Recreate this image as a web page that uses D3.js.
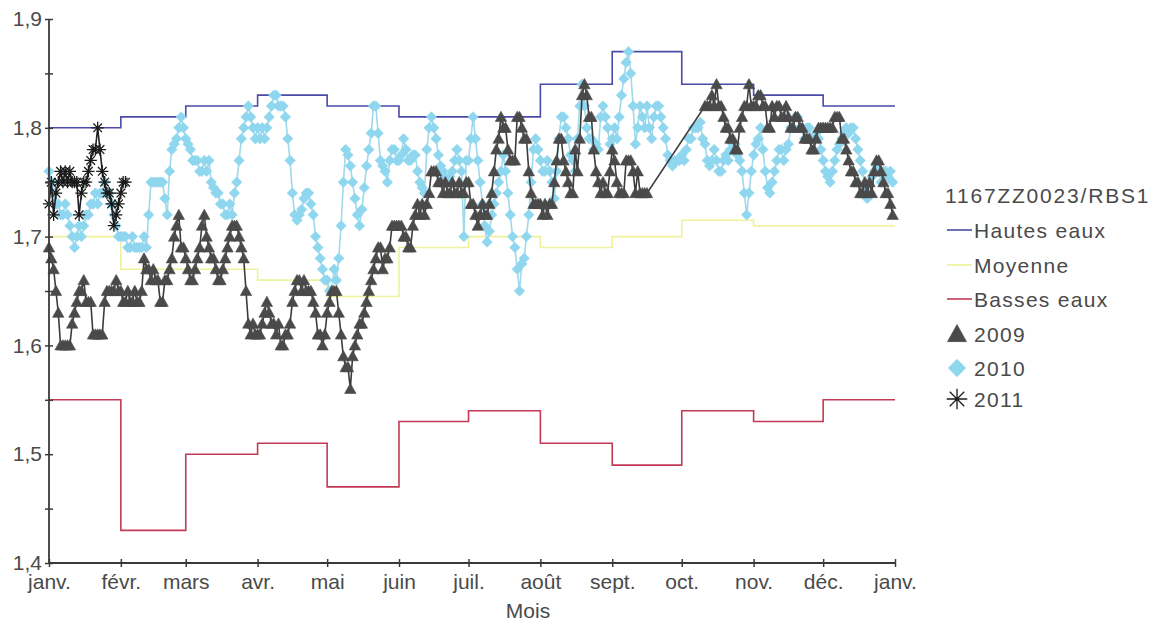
<!DOCTYPE html>
<html>
<head>
<meta charset="utf-8">
<script src="https://cdn.jsdelivr.net/npm/d3@7"></script>
<style>
  body { margin: 0; background: #fff; }
  svg text { font-family: "Liberation Sans", Arial, sans-serif; fill: #4a4a4a; }
</style>
</head>
<body>
<svg id="chart" width="1155" height="628"></svg>
<script>
// ---- data ----
const monthLabels = ["janv.", "févr.", "mars", "avr.", "mai", "juin", "juil.", "août", "sept.", "oct.", "nov.", "déc.", "janv."];
const yTickValues = [1.4, 1.45, 1.5, 1.55, 1.6, 1.65, 1.7, 1.75, 1.8, 1.85, 1.9];
const stationName = "1167ZZ0023/RBS1";

// monthly reference levels (janv. .. déc.)
const hautesEaux = [1.80, 1.81, 1.82, 1.83, 1.82, 1.81, 1.81, 1.84, 1.87, 1.84, 1.83, 1.82];
const moyenne    = [1.70, 1.67, 1.67, 1.66, 1.645, 1.69, 1.70, 1.69, 1.70, 1.715, 1.71, 1.71];
const bassesEaux = [1.55, 1.43, 1.50, 1.51, 1.47, 1.53, 1.54, 1.51, 1.49, 1.54, 1.53, 1.55];

// daily levels from 1 January (null = no measurement)
const niveaux2009 = [
  1.69,1.68,1.67,1.65,1.63,1.60,1.60,1.60,1.60,1.60,
  1.62,1.63,1.64,1.65,1.65,1.66,1.64,1.64,1.64,1.61,
  1.61,1.61,1.61,1.61,1.64,1.65,1.65,1.65,1.65,1.66,
  1.65,1.65,1.64,1.64,1.65,1.64,1.64,1.65,1.64,1.64,
  1.65,1.68,1.67,1.67,1.66,1.67,1.66,1.66,1.64,1.64,
  1.66,1.66,1.67,1.68,1.70,1.71,1.72,1.69,1.69,1.68,
  1.67,1.66,1.66,1.67,1.68,1.69,1.71,1.72,1.70,1.69,
  1.68,1.68,1.67,1.66,1.66,1.67,1.68,1.69,1.70,1.71,
  1.71,1.71,1.70,1.69,1.68,1.65,1.62,1.61,1.62,1.61,
  1.61,1.61,1.62,1.63,1.64,1.63,1.62,1.62,1.61,1.62,
  1.60,1.60,1.61,1.61,1.62,1.64,1.65,1.66,1.66,1.65,
  1.66,1.65,1.65,1.65,1.64,1.63,1.61,1.61,1.60,1.61,
  1.63,1.64,1.65,1.65,1.65,1.63,1.61,1.59,1.58,1.58,
  1.56,1.59,1.60,1.61,1.62,1.62,1.63,1.64,1.65,1.66,
  1.67,1.68,1.69,1.69,1.67,1.68,1.68,1.69,1.71,1.71,
  1.71,1.71,1.71,1.70,1.70,1.69,1.69,1.71,1.72,1.73,
  1.72,1.73,1.72,1.73,1.74,1.76,1.76,1.76,1.75,1.75,
  1.74,1.75,1.74,1.74,1.75,1.74,1.74,1.75,1.74,1.74,
  1.75,1.75,1.73,1.73,1.72,1.71,1.72,1.73,1.72,1.72,
  1.73,1.74,1.76,1.78,1.79,1.81,1.80,1.80,1.78,1.77,
  1.77,1.77,1.81,1.81,1.80,1.79,1.79,1.76,1.74,1.73,
  1.73,1.73,1.73,1.72,1.73,1.72,1.73,1.73,1.75,1.77,
  1.79,1.79,1.77,1.76,1.75,1.74,1.74,1.78,1.76,1.79,
  1.83,1.84,1.83,1.81,1.81,1.78,1.76,1.75,1.74,1.75,
  1.74,1.74,1.76,1.78,1.77,1.75,1.74,1.74,1.74,1.77,
  1.77,1.77,1.76,1.74,1.76,1.74,1.74,1.74,1.74,null,
  null,null,null,null,null,null,null,null,null,null,
  null,null,null,null,null,null,null,null,null,null,
  null,null,null,1.82,1.82,1.82,1.83,1.82,1.84,1.82,
  1.82,1.81,1.80,1.80,1.79,1.79,1.78,1.78,1.80,1.81,
  1.82,1.82,1.84,1.82,1.82,1.82,1.83,1.83,1.82,1.82,
  1.80,1.80,1.82,1.81,1.82,1.82,1.81,1.81,1.82,1.81,
  1.80,1.80,1.81,1.81,1.80,1.80,1.79,1.79,1.79,1.78,
  1.78,1.79,1.80,1.80,1.80,1.80,1.80,1.80,1.80,1.81,
  1.81,1.81,1.79,1.79,1.78,1.77,1.76,1.76,1.75,1.75,
  1.74,1.74,1.75,1.74,1.75,1.74,1.76,1.77,1.77,1.76,
  1.75,1.74,1.74,1.73,1.72
];

const niveaux2010 = [
  1.76,1.75,1.74,1.73,1.73,1.72,1.72,1.73,1.72,1.71,
  1.70,1.69,1.70,1.71,1.70,1.71,1.72,1.72,1.73,1.73,
  1.74,1.73,1.74,1.74,1.75,1.74,1.74,1.73,1.72,1.71,
  1.70,1.70,1.70,1.70,1.69,1.69,1.70,1.69,1.69,1.69,
  1.69,1.70,1.69,1.72,1.75,1.75,1.75,1.75,1.75,1.75,
  1.735,1.72,1.76,1.78,1.785,1.79,1.80,1.81,1.80,1.79,
  1.785,1.78,1.77,1.77,1.77,1.76,1.76,1.77,1.76,1.77,
  1.75,1.745,1.74,1.74,1.73,1.73,1.72,1.72,1.73,1.72,
  1.74,1.75,1.77,1.79,1.80,1.81,1.82,1.81,1.80,1.79,
  1.80,1.79,1.80,1.79,1.80,1.81,1.82,1.83,1.83,1.82,
  1.82,1.82,1.81,1.79,1.77,1.74,1.72,1.715,1.72,1.725,
  1.735,1.74,1.74,1.73,1.72,1.70,1.69,1.68,1.67,1.66,
  1.66,1.65,1.65,1.67,1.66,1.68,1.71,1.75,1.78,1.775,
  1.765,1.75,1.735,1.72,1.71,1.725,1.745,1.765,1.78,1.795,
  1.82,1.82,1.795,1.77,1.765,1.76,1.75,1.77,1.78,1.78,
  1.77,1.77,1.775,1.79,1.78,1.77,1.77,1.775,1.775,1.76,
  1.75,1.745,1.74,1.78,1.80,1.81,1.80,1.79,1.775,1.765,
  1.76,1.755,1.75,1.755,1.76,1.77,1.78,1.77,1.76,1.70,
  1.77,1.77,1.79,1.81,1.79,1.77,1.75,1.73,1.71,1.695,
  1.705,1.72,1.73,1.74,1.75,1.76,1.775,1.76,1.74,1.72,
  1.70,1.69,1.67,1.65,1.675,1.68,1.70,1.72,1.75,1.78,
  1.79,1.78,1.77,1.76,1.76,1.77,1.76,1.75,1.735,1.76,
  1.79,1.81,1.81,1.80,1.79,1.775,1.77,1.76,1.79,1.82,
  1.84,1.82,1.80,1.79,1.79,1.78,1.785,1.78,1.81,1.82,
  1.81,1.80,1.785,1.79,1.80,1.79,1.81,1.83,1.845,1.86,
  1.87,1.85,1.82,1.785,1.80,1.82,1.81,1.80,1.82,1.80,
  1.79,1.81,1.82,1.82,1.81,1.80,1.79,1.775,1.77,1.765,
  1.77,1.77,1.77,1.775,1.77,1.78,1.79,1.79,1.80,1.80,
  1.80,1.805,1.79,1.785,1.77,1.765,1.77,1.78,1.77,1.76,
  1.76,1.77,1.775,1.77,1.78,1.785,1.785,1.775,1.77,1.76,
  1.74,1.72,1.74,1.76,1.775,1.785,1.79,1.80,1.78,1.76,
  1.745,1.74,1.75,1.76,1.77,1.78,1.78,1.77,1.78,1.785,
  1.80,1.80,1.81,1.81,1.80,1.80,1.79,1.80,1.80,1.79,
  1.79,1.795,1.79,1.78,1.77,1.76,1.755,1.75,1.76,1.77,
  1.78,1.785,1.79,1.795,1.80,1.795,1.80,1.80,1.79,1.78,
  1.77,1.76,1.745,1.735,1.74,1.755,1.76,1.765,1.76,1.75,
  1.76,1.76,1.755,1.76,1.75
];

const niveaux2011 = [
  1.73,1.75,1.72,1.74,1.75,1.76,1.75,1.76,1.75,1.76,
  1.75,1.75,1.75,1.72,1.74,1.75,1.75,1.76,1.77,1.78,
  1.78,1.80,1.78,1.76,1.75,1.74,1.74,1.73,1.71,1.72,
  1.73,1.74,1.75,1.75
];

// ---- scales ----
const svg = d3.select("#chart");
const yearStart = new Date(2009, 0, 1);
const yearEnd = new Date(2010, 0, 1);
const x = d3.scaleTime().domain([yearStart, yearEnd]).range([49, 895]);
const y = d3.scaleLinear().domain([1.4, 1.9]).range([563, 19]);

const fr = d3.formatLocale({ decimal: ",", thousands: " ", grouping: [3], currency: ["", " €"] });
const fmt1 = fr.format(".1f");

const dayDate = i => d3.timeDay.offset(yearStart, i);
const dailyPoints = vals => vals.map((v, i) => ({ date: dayDate(i), v })).filter(d => d.v != null);
const monthlyPoints = vals => {
  const pts = vals.map((v, i) => ({ date: new Date(2009, i, 1), v }));
  pts.push({ date: yearEnd, v: vals[vals.length - 1] });
  return pts;
};

// ---- reference step curves ----
const stepLine = d3.line().x(d => x(d.date)).y(d => y(d.v)).curve(d3.curveStepAfter);
const refSeries = [
  { name: "Basses eaux", vals: bassesEaux, color: "#c23a55" },
  { name: "Moyenne", vals: moyenne, color: "#eef29a" },
  { name: "Hautes eaux", vals: hautesEaux, color: "#4a4aa8" }
];
svg.append("g").selectAll("path").data(refSeries).join("path")
  .attr("d", d => stepLine(monthlyPoints(d.vals)))
  .attr("fill", "none")
  .attr("stroke", d => d.color)
  .attr("stroke-width", 1.6);

// ---- marker shapes ----
const diamondType = {
  draw(ctx, size) {
    const r = Math.sqrt(size) / 2;
    ctx.moveTo(0, -r); ctx.lineTo(r, 0); ctx.lineTo(0, r); ctx.lineTo(-r, 0); ctx.closePath();
  }
};
const starType = {
  draw(ctx, size) {
    const r = Math.sqrt(size) / 2, k = r * Math.SQRT1_2;
    ctx.moveTo(-r, 0); ctx.lineTo(r, 0);
    ctx.moveTo(0, -r); ctx.lineTo(0, r);
    ctx.moveTo(-k, -k); ctx.lineTo(k, k);
    ctx.moveTo(-k, k); ctx.lineTo(k, -k);
  }
};
const triangleType = {
  draw(ctx, size) {
    const w = Math.sqrt(size) / 2;
    ctx.moveTo(0, -w); ctx.lineTo(w, w * 0.8); ctx.lineTo(-w, w * 0.8); ctx.closePath();
  }
};

// ---- yearly daily series ----
const yearSeries = [
  { name: "2010", vals: niveaux2010, line: "#9fd9ec", fill: "#8fd6ef", stroke: "#8fd6ef", type: diamondType, size: 110 },
  { name: "2009", vals: niveaux2009, line: "#3c3c3c", fill: "#4a4a4a", stroke: "#4a4a4a", type: triangleType, size: 130 },
  { name: "2011", vals: niveaux2011, line: "#222", fill: "none", stroke: "#1a1a1a", type: starType, size: 150 }
];
const dayLine = d3.line().x(d => x(d.date)).y(d => y(d.v));

yearSeries.forEach(s => {
  const pts = dailyPoints(s.vals);
  const g = svg.append("g");
  g.append("path")
    .attr("d", dayLine(pts))
    .attr("fill", "none")
    .attr("stroke", s.line)
    .attr("stroke-width", 1.6);
  g.selectAll("path.m").data(pts).join("path")
    .attr("class", "m")
    .attr("transform", d => `translate(${x(d.date)},${y(d.v)})`)
    .attr("d", d3.symbol().type(s.type).size(s.size))
    .attr("fill", s.fill)
    .attr("stroke", s.stroke)
    .attr("stroke-width", s.type === starType ? 1.3 : 0.6);
});

// ---- axes ----
const axisColor = "#3a3a3a";
const yAxis = svg.append("g").attr("transform", "translate(49,0)")
  .call(d3.axisLeft(y).tickValues(yTickValues).tickSize(4)
    .tickFormat(d => Math.abs(d * 10 - Math.round(d * 10)) < 1e-6 ? fmt1(d) : ""));
yAxis.select(".domain").attr("stroke", axisColor).attr("stroke-width", 1.8).attr("d", `M0,${y(1.4)}V${y(1.9)}`);
yAxis.selectAll(".tick line").attr("stroke", axisColor).attr("stroke-width", 1.5).attr("x1", -4).attr("x2", 4);
yAxis.selectAll(".tick text").attr("x", -7).attr("font-size", 21).attr("fill", "#4a4a4a")
  .style("font-family", "'Liberation Sans', Arial, sans-serif");

const monthTicks = d3.timeMonth.range(yearStart, d3.timeDay.offset(yearEnd, 1));
const xAxis = svg.append("g").attr("transform", `translate(0,${y(1.4)})`)
  .call(d3.axisBottom(x).tickValues(monthTicks).tickSize(4).tickFormat((d, i) => monthLabels[i]));
xAxis.select(".domain").attr("stroke", axisColor).attr("stroke-width", 1.8).attr("d", `M${x(yearStart)},0H${x(yearEnd)}`);
xAxis.selectAll(".tick line").attr("stroke", axisColor).attr("stroke-width", 1.5).attr("y1", -4).attr("y2", 4);
xAxis.selectAll(".tick text").attr("y", 11).attr("font-size", 21).attr("fill", "#4a4a4a")
  .style("font-family", "'Liberation Sans', Arial, sans-serif");

svg.append("text").attr("x", 528).attr("y", 618).attr("text-anchor", "middle")
  .attr("font-size", 21).text("Mois");

// ---- legend ----
const legend = svg.append("g");
legend.append("text").attr("x", 945).attr("y", 203).attr("font-size", 21)
  .attr("letter-spacing", 1.8).text(stationName);
const legendItems = [
  { label: "Hautes eaux", kind: "line", color: "#4a4aa8", yb: 238 },
  { label: "Moyenne", kind: "line", color: "#eef29a", yb: 273 },
  { label: "Basses eaux", kind: "line", color: "#c23a55", yb: 307 },
  { label: "2009", kind: "mark", s: yearSeries[1], yb: 342 },
  { label: "2010", kind: "mark", s: yearSeries[0], yb: 376 },
  { label: "2011", kind: "mark", s: yearSeries[2], yb: 407 }
];
legendItems.forEach(it => {
  const cy = it.yb - 8;
  if (it.kind === "line") {
    legend.append("line").attr("x1", 947).attr("x2", 972).attr("y1", cy).attr("y2", cy)
      .attr("stroke", it.color).attr("stroke-width", 1.6);
  } else {
    legend.append("path")
      .attr("transform", `translate(957,${cy})`)
      .attr("d", d3.symbol().type(it.s.type).size(it.s.size * 2.8))
      .attr("fill", it.s.fill).attr("stroke", it.s.stroke)
      .attr("stroke-width", it.s.type === starType ? 1.3 : 0.6);
  }
  legend.append("text").attr("x", 974).attr("y", it.yb).attr("font-size", 21)
    .attr("letter-spacing", 1.3).text(it.label);
});
</script>
</body>
</html>
